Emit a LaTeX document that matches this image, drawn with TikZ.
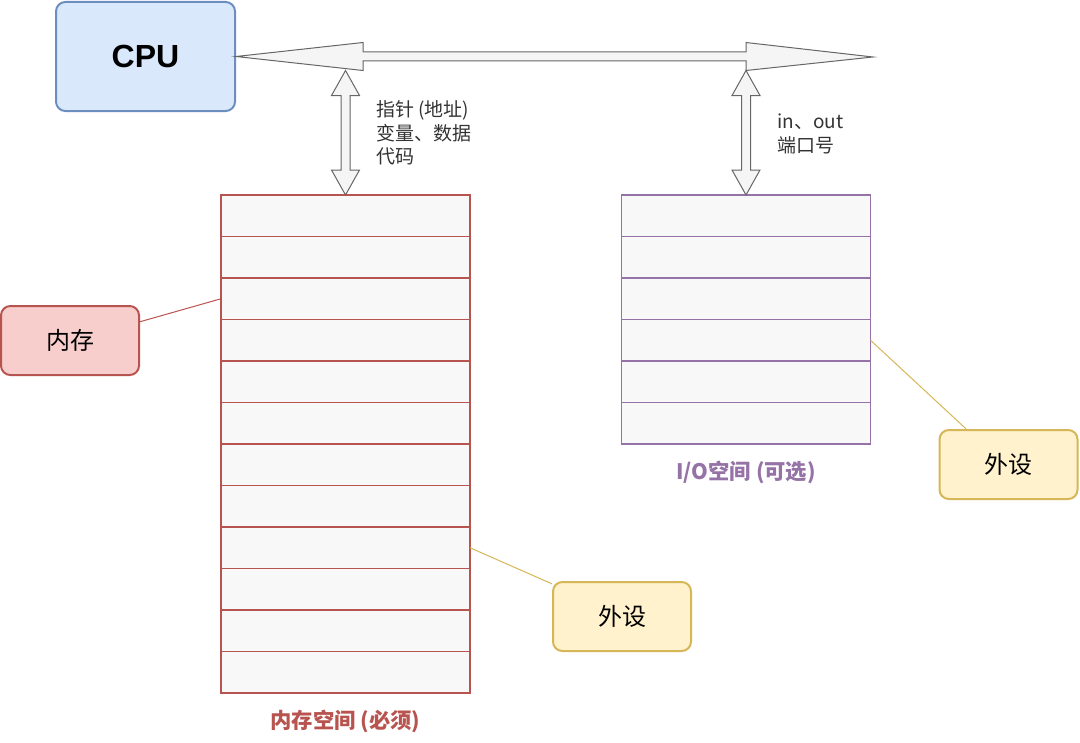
\documentclass[tikz,border=0pt]{standalone}
\usepackage{fontspec}
\setmainfont{Liberation Sans}
\newfontfamily\cjk{Noto Sans CJK SC}
\usepackage{tikz}
\usetikzlibrary{positioning,calc}

\definecolor{cpufill}{HTML}{DAE8FC}
\definecolor{cpuline}{HTML}{6C8EBF}
\definecolor{redfill}{HTML}{F8CECC}
\definecolor{redline}{HTML}{B85450}
\definecolor{yelfill}{HTML}{FFF2CC}
\definecolor{yelline}{HTML}{D6B656}
\definecolor{purline}{HTML}{9673A6}
\definecolor{cellfill}{HTML}{F8F8F8}
\definecolor{fatfill}{HTML}{F5F5F5}
\definecolor{fatline}{HTML}{666666}
\definecolor{notetext}{HTML}{333333}

% double flat arrow, top tip to bottom tip
\newcommand{\vfat}[2]{%
  \draw[fat] (#1) -- ++(14,25) -- ++(-9.5,0) -- ($(#2)+(4.5,-25)$) -- ++(9.5,0)
    -- (#2) -- ++(-14,-25) -- ++(9.5,0) -- ($(#1)+(-4.5,25)$) -- ++(-9.5,0) -- cycle;}

\begin{document}
\begin{tikzpicture}[
  x=0.75pt,y=-0.75pt,
  box/.style={draw,rounded corners=7pt,line width=1.5pt,align=center,
              minimum width=103.5pt,minimum height=51.75pt,font=\cjk\fontsize{18}{22}\selectfont},
  cpubox/.style={box,fill=cpufill,draw=cpuline,minimum width=134.25pt,minimum height=81.75pt,
              font=\bfseries\fontsize{24}{28}\selectfont},
  redbox/.style={box,fill=redfill,draw=redline},
  yelbox/.style={box,fill=yelfill,draw=yelline},
  cell/.style={draw,fill=cellfill,line width=0.8pt,minimum width=186.75pt,
              minimum height=31.125pt,inner sep=0pt,outer sep=0pt},
  memcell/.style={cell,draw=redline},
  iocell/.style={cell,draw=purline},
  fat/.style={fill=fatfill,draw=fatline,line width=0.75pt,line join=miter},
  note/.style={align=left,text=notetext,inner sep=0pt,
              font=\cjk\fontsize{14.25}{17.5}\selectfont},
  caption/.style={font=\cjk\bfseries\fontsize{16}{20}\selectfont},
  link/.style={line width=0.75pt}
]
\useasboundingbox (0,0) rectangle (1080,742);

\node[cpubox] (cpu) at (145.5,56.5) {CPU};

% memory space
\node[memcell] (m1) at (345.5,215.75) {};
\foreach \i [evaluate=\i as \prev using int(\i-1)] in {2,...,12}
  \node[memcell,below=0pt of m\prev] (m\i) {};
\node[caption,text=redline,below=9pt of m12] (memcap) {内存空间 (必须)};

% I/O space
\node[iocell] (io1) at (746,215.75) {};
\foreach \i [evaluate=\i as \prev using int(\i-1)] in {2,...,6}
  \node[iocell,below=0pt of io\prev] (io\i) {};
\node[caption,text=purline,below=9pt of io6] (iocap) {I/O空间 (可选)};

\node[redbox] (neicun) at (70,340.5) {内存};
\node[yelbox] (waiio) at (1008.5,464.5) {外设};
\node[yelbox] (waimem) at (622,616.5) {外设};

% bus
\coordinate (busend) at (873,57);
\coordinate (memtap) at ($(cpu.east -| m1.north)+(0,14)$);
\coordinate (iotap) at ($(cpu.east -| io1.north)+(0,14)$);
\draw[fat] (cpu.east) -- ++(127,-14) -- ++(0,9.5) -- ($(iotap)+(0,-18.5)$) -- ++(0,-9.5)
  -- (busend) -- (iotap) -- ++(0,-9.5) -- ($(cpu.east)+(127,4.5)$) -- ++(0,9.5) -- cycle;
\vfat{memtap}{m1.north}
\vfat{iotap}{io1.north}

\node[note,anchor=west] (ptrlbl) at (376,133) {指针 (地址)\\变量、数据\\代码};
\node[note,anchor=west] (portlbl) at (777,134) {in、out\\端口号};

\draw[link,redline] (neicun.15) -- (m3.west);
\draw[link,yelline] (io4.east) -- (waiio.140);
\draw[link,yelline] (m9.east) -- (waimem.155);
\end{tikzpicture}
\end{document}
